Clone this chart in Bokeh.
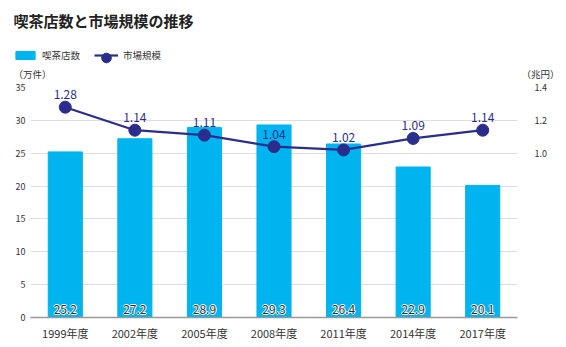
from bokeh.plotting import figure
from bokeh.layouts import column
from bokeh.core.properties import value
from bokeh.models import (ColumnDataSource, Range1d, LinearAxis, Label, Legend, LegendItem,
                          FixedTicker, FactorRange, LabelSet, PrintfTickFormatter)
from bokeh.embed import file_html
from bokeh.resources import INLINE

years = ["1999年度", "2002年度", "2005年度", "2008年度", "2011年度", "2014年度", "2017年度"]
shops = [25.2, 27.2, 28.9, 29.3, 26.4, 22.9, 20.1]
market = [1.28, 1.14, 1.11, 1.04, 1.02, 1.09, 1.14]
left_ticks = [0, 5, 10, 15, 20, 25, 30, 35]
right_ticks = [1.0, 1.2, 1.4]

FONT = "Noto Sans CJK JP"
BAR = "#00b4ef"
NAVY = "#2b2d8c"
TXT = "#333333"

# ---------------- header figure (title, legend, units) ----------------
TOP_H = 79
top = figure(width=566, height=TOP_H, x_range=Range1d(0, 1), y_range=Range1d(0, 1),
             output_backend="svg", toolbar_location=None, min_border=0,
             x_axis_type=None, y_axis_type=None)
top.frame_align = False
top.outline_line_color = None
top.xgrid.visible = False
top.ygrid.visible = False

# off-range sample renderers that only serve as legend keys
key_src = ColumnDataSource(dict(x=[5], y=[5], top=[5]))
d_bar = top.vbar(x="x", top="top", width=0.1, color=BAR, source=key_src)
d_line = top.line(x="x", y="y", color=NAVY, line_width=2.2, source=key_src)
d_sc = top.scatter(x="x", y="y", size=11, color=NAVY, source=key_src)

top.add_layout(Label(x=13, y=TOP_H - 20, x_units="screen", y_units="screen",
                     text="喫茶店数と市場規模の推移", text_font=FONT, text_font_size="15px",
                     text_font_style="bold", text_color="#222222", text_baseline="middle"))
top.add_layout(Label(x=13, y=TOP_H - 73, x_units="screen", y_units="screen", text="（万件）",
                     text_font=FONT, text_font_size="9.5px", text_color=TXT, text_baseline="middle"))
top.add_layout(Label(x=521, y=TOP_H - 73, x_units="screen", y_units="screen", text="（兆円）",
                     text_font=FONT, text_font_size="9.5px", text_color=TXT, text_baseline="middle"))

legend = Legend(items=[LegendItem(label="喫茶店数", renderers=[d_bar]),
                       LegendItem(label="市場規模", renderers=[d_line])],
                orientation="horizontal", location=(13, TOP_H - 62),
                label_text_font=FONT, label_text_font_size="9.5px", label_text_color=TXT,
                glyph_width=24, glyph_height=10, spacing=14, background_fill_alpha=0,
                border_line_color=None, padding=0, margin=0, label_standoff=5,
                label_height=10)
top.add_layout(legend)
# larger key for the line's marker, laid over the line key
legend_mk = Legend(items=[LegendItem(label=" ", renderers=[d_sc])],
                   orientation="horizontal", location=(94, TOP_H - 69.5),
                   label_text_font_size="1px", label_text_alpha=0,
                   glyph_width=24, glyph_height=25, background_fill_alpha=0,
                   border_line_color=None, padding=0, margin=0, label_standoff=0,
                   label_height=1, label_width=1)
top.add_layout(legend_mk)

# ---------------- main chart ----------------
scale = 35 / 1.4
src = ColumnDataSource(dict(
    x=years, shops=shops, market=market,
    market_s=[m * scale for m in market],
    shop_lbl=[f"{v:.1f}" for v in shops],
    mkt_lbl=[f"{v:.2f}" for v in market],
    zero=[0.0] * len(years),
))

p = figure(width=566, height=347 - TOP_H, x_range=FactorRange(*years, range_padding=0),
           y_range=Range1d(0, 35), output_backend="svg", toolbar_location=None,
           min_border_left=30, min_border_right=49, min_border_top=87 - TOP_H,
           min_border_bottom=30)
p.frame_align = False
p.outline_line_color = None

p.vbar(x="x", top="shops", width=0.49, color=BAR, source=src)
p.line(x="x", y="market_s", color=NAVY, line_width=2.2, source=src)
p.scatter(x="x", y="market_s", size=12, color=NAVY, source=src)

# bar value labels (dark text with white halo)
for dx, dy in [(-1, 0), (1, 0), (0, -1), (0, 1)]:
    p.add_layout(LabelSet(x="x", y="zero", text="shop_lbl", source=src, text_align="center",
                          text_baseline="bottom", y_offset=4 + dy, x_offset=dx,
                          text_font=value(FONT), text_font_size=value("12px"),
                          text_color="white"))
p.add_layout(LabelSet(x="x", y="zero", text="shop_lbl", source=src, text_align="center",
                      text_baseline="bottom", y_offset=4, text_font=value(FONT),
                      text_font_size=value("12px"), text_color=TXT))
# market value labels
p.add_layout(LabelSet(x="x", y="market_s", text="mkt_lbl", source=src, text_align="center",
                      text_baseline="bottom", y_offset=8, text_font=value(FONT),
                      text_font_size=value("12px"), text_color=NAVY))

# axes
p.yaxis.ticker = FixedTicker(ticks=left_ticks)
p.yaxis.axis_line_color = None
p.yaxis.major_tick_line_color = None
p.yaxis.major_tick_out = 0
p.yaxis.minor_tick_line_color = None
p.yaxis.major_label_text_font = FONT
p.yaxis.major_label_text_font_size = "9px"
p.yaxis.major_label_text_color = TXT
p.yaxis.major_label_standoff = 5

p.extra_y_ranges = {"r": Range1d(0, 1.4)}
ra = LinearAxis(y_range_name="r", ticker=FixedTicker(ticks=right_ticks),
                formatter=PrintfTickFormatter(format="%.1f"))
ra.axis_line_color = None
ra.major_tick_line_color = None
ra.major_tick_out = 0
ra.minor_tick_line_color = None
ra.major_label_text_font = FONT
ra.major_label_text_font_size = "9px"
ra.major_label_text_color = TXT
ra.major_label_standoff = 17
p.add_layout(ra, "right")

p.xaxis.axis_line_color = "#999999"
p.xaxis.axis_line_width = 1.5
p.xaxis.major_tick_line_color = None
p.xaxis.major_tick_out = 0
p.xaxis.major_label_text_font = FONT
p.xaxis.major_label_text_font_size = "11px"
p.xaxis.major_label_text_color = TXT
p.xaxis.major_label_standoff = 7

p.xgrid.grid_line_color = None
p.ygrid.grid_line_color = "#dddddd"
p.ygrid.ticker = FixedTicker(ticks=left_ticks)

layout = column(top, p, spacing=0)
open("out.html", "w").write(file_html(layout, INLINE))
